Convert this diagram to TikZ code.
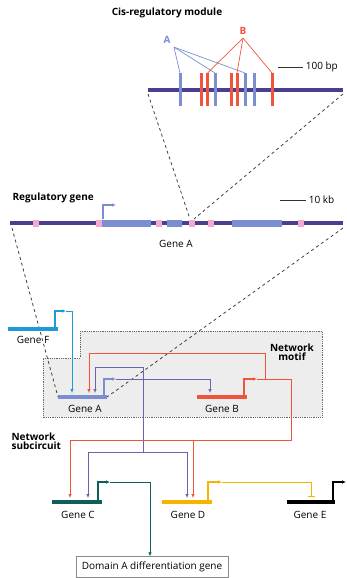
\documentclass[tikz,border=0pt]{standalone}
\usepackage{fontspec}
\setmainfont{Open Sans}
\usetikzlibrary{arrows.meta,calc}
\definecolor{dna}{HTML}{4A3F8F}
\definecolor{siteblue}{HTML}{7B8FD0}
\definecolor{sitered}{HTML}{F0553C}
\definecolor{intron}{HTML}{F5A9D0}
\definecolor{netpurple}{HTML}{6A63B2}
\definecolor{genecyan}{HTML}{1E9AD6}
\definecolor{geneteal}{HTML}{0F5E5A}
\definecolor{geneyellow}{HTML}{F6B400}
\begin{document}
\begin{tikzpicture}[x=1pt,y=-1pt,font=\fontsize{10}{11}\selectfont,
  head/.style={-{Latex[length=4pt,width=3.6pt]}},
  genebar/.style={line width=3.5pt},
  promoter/.style={line width=1.6pt,head},
  wire/.style={line width=0.7pt},
  title/.style={font=\fontsize{10}{11}\selectfont\bfseries}]
\useasboundingbox (0,0) rectangle (346,578);

% cis-regulatory module
\node[title] (cisTitle) at (167,13) {Cis-regulatory module};
\draw[dna,line width=4pt] (148,90) coordinate (cisL) -- (343,90) coordinate (cisR);
\foreach \x [count=\i] in {180,215,245,254}{
  \draw[siteblue,line width=3pt] (\x,73) coordinate (sA\i) -- (\x,106);
}
\foreach \x [count=\i] in {201.5,207.5,231,237,272}{
  \draw[sitered,line width=3pt] (\x,73) coordinate (sB\i) -- (\x,106);
}
\node[siteblue,title] (labA) at (167,40) {A};
\node[sitered,title] (labB) at (243,31) {B};
\foreach \s in {sA1,sA2,sA3} \draw[siteblue,wire] (labA.south east) -- (\s);
\foreach \s in {sB2,sB4,sB5} \draw[sitered,wire] (labB.south) -- (\s);
\draw[black!80,wire] (278,67) coordinate (bpL) -- (303,67) coordinate (bpR);
\node[anchor=west,inner sep=1pt] (bp) at (bpR) {\,100 bp};

% regulatory gene
\node[title,anchor=west] (regTitle) at (9,198) {Regulatory gene};
\draw[dna,line width=4pt] (10,223) coordinate (regL) -- (343,223) coordinate (regR);
\foreach \a/\b in {102/151,167/182,232/282}
  \fill[siteblue] (\a,219.5) rectangle (\b,226.5);
\foreach \x in {36,99,159,192,211,301}
  \fill[intron] (\x-3,219.5) rectangle (\x+3,226.5);
\coordinate (cisPos) at (192,219);
\draw[siteblue,line width=1.3pt,head] (103,219) -- (103,205) -- (116,205);
\draw[black!80,wire] (280,200) coordinate (kbL) -- (306,200) coordinate (kbR);
\node[anchor=west,inner sep=1pt] (kb) at (kbR) {\,10 kb};
\node (regGeneA) at (176,244) {Gene A};
\draw[dashed,thick,black!75] (cisL) ++(0,4) -- ([xshift=-2pt]cisPos);
\draw[dashed,thick,black!75] (cisR) ++(0,4) -- ([xshift=2pt]cisPos);

% network motif box
\draw[densely dotted,thick,black!60,fill=black!7] (80,331) -- (322,331) -- (322,417)
  -- (43,417) -- (43,358) -- (80,358) -- cycle;
\node[title,align=center] (motif) at (292,352) {Network\\[-2pt]motif};
\node[title,align=left,anchor=west] (subcirc) at (8,441) {Network\\[-2pt]subcircuit};

% genes
\coordinate (gAl) at (58,397); \coordinate (gAr) at (107,397);
\draw[dashed,thick,black!75] (regL) ++(2,5) -- (gAl);
\draw[dashed,thick,black!75] (regR) ++(0,5) -- (gAr);
\draw[genecyan,genebar] (8,329) -- (58,329);
\node (geneF) at (33,340) {Gene F};
\draw[siteblue,genebar] (gAl) -- (gAr);
\node (geneA) at (85,409) {Gene A};
\draw[sitered,genebar] (197,397) coordinate (gBl) -- (247,397) coordinate (gBr);
\node (geneB) at (222,409) {Gene B};
\draw[geneteal,genebar] (52,502) coordinate (gCl) -- (102,502) coordinate (gCr);
\node (geneC) at (78,515) {Gene C};
\draw[geneyellow,genebar] (162,502) coordinate (gDl) -- (212,502) coordinate (gDr);
\node (geneD) at (188,515) {Gene D};
\draw[black,genebar] (287,502) coordinate (gEl) -- (335,502) coordinate (gEr);
\node (geneE) at (310,515) {Gene E};
\node[draw=black!45,minimum width=152pt,minimum height=21pt,inner sep=2pt] (domA) at (152,567)
  {Domain A differentiation gene};

% promoters
\draw[genecyan,promoter] (55,329) -- (55,311) -- (66,311) coordinate (pF);
\draw[siteblue,promoter] (104,397) -- (104,379) -- (116,379) coordinate (pA);
\draw[sitered,promoter] (244,397) -- (244,379) -- (257,379) coordinate (pB);
\draw[geneteal,promoter] (98,502) -- (98,482) -- (110,482) coordinate (pC);
\draw[geneyellow,promoter] (208,502) -- (208,482) -- (222,482) coordinate (pD);
\draw[black,promoter] (333,502) -- (333,482) -- (346,482) coordinate (pE);

% inputs
\coordinate (inAf) at (72,393); \coordinate (inAr) at (89,393); \coordinate (inAp) at (95,393);
\coordinate (inB) at (210,393);
\coordinate (inCr) at (70,498); \coordinate (inCp) at (88,498);
\coordinate (inDp) at (187,498); \coordinate (inDr) at (193,498);
\coordinate (inE) at (311,497);

% connectors
\draw[genecyan,wire,head] (pF) -| (inAf);
\draw[netpurple,wire,head] (pA) -| (inB);
\draw[netpurple,wire,head] (143,452) -- (143,367) -| (inAp);
\draw[netpurple,wire,head] (143,452) -| (inCp);
\draw[netpurple,wire,head] (143,452) -| (inDp);
\draw[sitered,wire,head] (265,379) -- (265,353) -| (inAr);
\draw[sitered,wire,head] (pB) -| (291,440) -| (inCr);
\draw[sitered,wire,head] (193,440) -- (inDr);
\draw[geneteal,wire,head] (pC) -| (domA.north -| 150,0);
\draw[geneyellow,wire,-{Bar[width=7pt]}] (pD) -| (inE);
\end{tikzpicture}
\end{document}
